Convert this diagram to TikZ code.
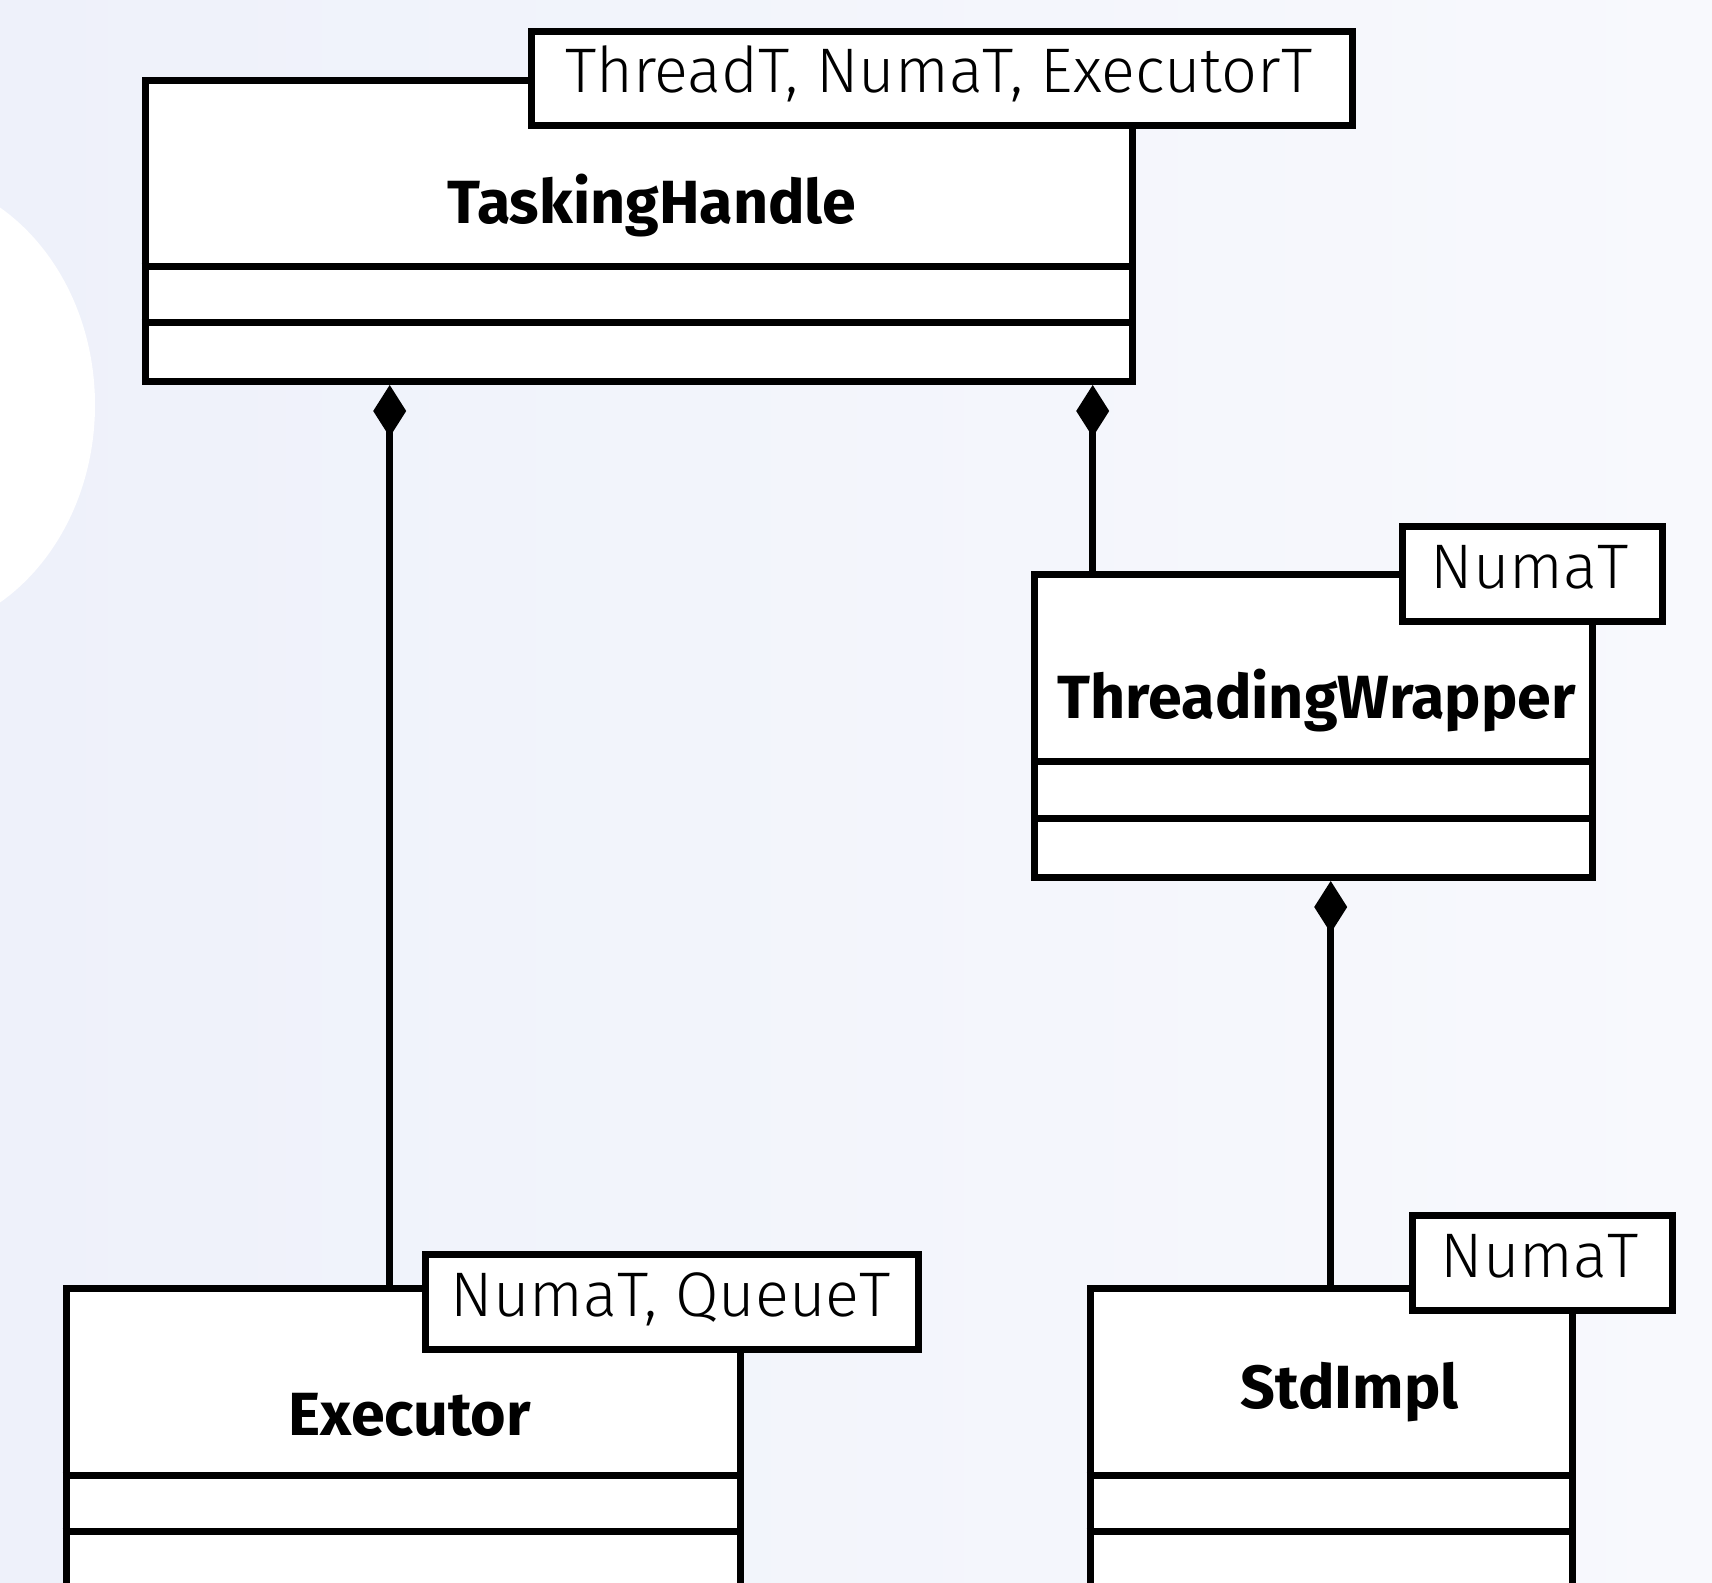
\documentclass[tikz,border=0pt]{standalone}
\usepackage{fontspec}
\setmainfont{Fira Sans Light}[BoldFont={Fira Sans Bold}]
\usetikzlibrary{arrows.meta}
\definecolor{bgL}{RGB}{238,241,250}
\definecolor{bgR}{RGB}{248,249,253}
\begin{document}
\begin{tikzpicture}[x=1pt,y=-1pt,
  classbox/.style={draw, line width=7pt, fill=white, rectangle, inner sep=0pt, anchor=north west},
  tmplbox/.style={draw, line width=7pt, fill=white, rectangle, inner sep=0pt, anchor=north west},
  title/.style={font=\bfseries\fontsize{61}{70}\selectfont, anchor=base, inner sep=0pt},
  tmpl/.style={font=\fontsize{63}{72}\selectfont, anchor=base, inner sep=0pt},
  comp/.style={line width=7.5pt, {Diamond[length=52pt,width=33pt,line width=0pt]}-},
  sepline/.style={line width=7pt}]
\useasboundingbox (0,0) rectangle (1712,1582);
\clip (0,0) rectangle (1712,1582);
\shade[left color=bgL, right color=bgR] (0,0) rectangle (1712,1582);
\fill[white] (-100,405) ellipse [x radius=195, y radius=230];

\begin{scope}[shift={(-3.3,-2)}]
% TaskingHandle
\node[classbox, minimum width=987pt, minimum height=301.5pt] (th) at (145,78.5) {};
\coordinate (th1) at (0,268);
\coordinate (th2) at (0,324.5);
\draw[sepline] (th.west |- th1) -- (th.east |- th1);
\draw[sepline] (th.west |- th2) -- (th.east |- th2);
\node[tmplbox, minimum width=821pt, minimum height=94.5pt] (tht) at (531,29.5) {};
\node[title] (thname) at (655,225) {TaskingHandle};
\node[tmpl] (thpar) at (942,94) {ThreadT, NumaT, ExecutorT};

% ThreadingWrapper
\node[classbox, minimum width=557.5pt, minimum height=303pt] (tw) at (1034.5,573) {};
\coordinate (tw1) at (0,763);
\coordinate (tw2) at (0,820);
\draw[sepline] (tw.west |- tw1) -- (tw.east |- tw1);
\draw[sepline] (tw.west |- tw2) -- (tw.east |- tw2);
\node[tmplbox, minimum width=260pt, minimum height=95pt] (twt) at (1402,525) {};
\node[title] (twname) at (1320,720) {ThreadingWrapper};
\node[tmpl] (twpar) at (1533,590) {NumaT};

% Executor
\node[classbox, minimum width=674pt, minimum height=450pt] (exe) at (66,1287) {};
\coordinate (ex1) at (0,1477);
\coordinate (ex2) at (0,1533);
\draw[sepline] (exe.west |- ex1) -- (exe.east |- ex1);
\draw[sepline] (exe.west |- ex2) -- (exe.east |- ex2);
\node[tmplbox, minimum width=493pt, minimum height=95pt] (exet) at (425,1253) {};
\node[title] (exename) at (413,1437) {Executor};
\node[tmpl] (exepar) at (674,1318) {NumaT, QueueT};

% StdImpl
\node[classbox, minimum width=482pt, minimum height=450pt] (std) at (1090,1287) {};
\draw[sepline] (std.west |- ex1) -- (std.east |- ex1);
\draw[sepline] (std.west |- ex2) -- (std.east |- ex2);
\node[tmplbox, minimum width=260pt, minimum height=95pt] (stdt) at (1412,1214) {};
\node[title] (stdname) at (1353,1410) {StdImpl};
\node[tmpl] (stdpar) at (1543,1279) {NumaT};

% connectors
\coordinate (k1) at (393,0);
\coordinate (k2) at (1096,0);
\coordinate (k3) at (1334,0);
\draw[comp] (th.south -| k1) -- (exe.north -| k1);
\draw[comp] (th.south -| k2) -- (tw.north -| k2);
\draw[comp] (tw.south -| k3) -- (std.north -| k3);
\end{scope}
\end{tikzpicture}
\end{document}
